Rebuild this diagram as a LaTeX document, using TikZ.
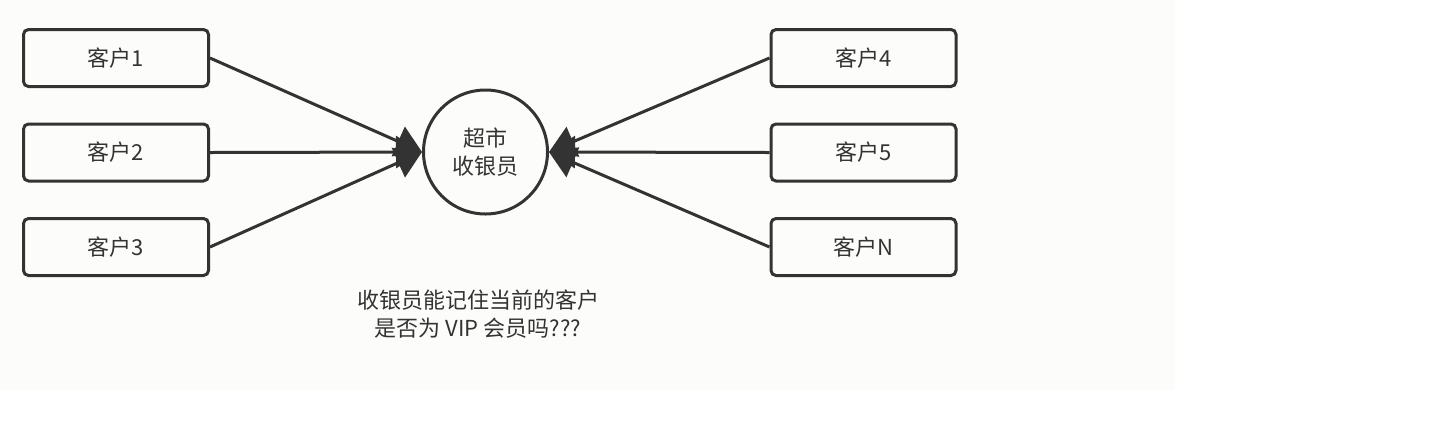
\documentclass[tikz,border=0pt]{standalone}
\usepackage{fontspec}
\setmainfont{Noto Sans CJK SC}
\usetikzlibrary{arrows.meta}
\definecolor{ink}{RGB}{51,51,51}
\definecolor{paper}{RGB}{252,253,251}

\tikzset{
  customer/.style={draw=ink,line width=1.5pt,rounded corners=2.5pt,
    minimum width=92.5pt,minimum height=28.5pt,inner sep=0pt,text=ink},
  cashier/.style={draw=ink,line width=1.5pt,circle,minimum size=62pt,
    inner sep=0pt,align=center,text=ink},
  feed/.style={draw=ink,line width=1.5pt,-{Triangle[length=13pt,width=16pt]}},
  question/.style={align=center,text=ink}
}

\begin{document}
\begin{tikzpicture}[x=0.5pt,y=-0.5pt]
\fontsize{11pt}{14pt}\selectfont

\useasboundingbox (0,0) rectangle (1439,430);
\fill[paper] (0,0) rectangle (1175,390);

\node[cashier] (cashier) at (485.5,152) {超市\\收银员};

% customers on the left
\node[customer] (c1) at (116,58) {客户1};
\node[customer] (c2) at (116,152.5) {客户2};
\node[customer] (c3) at (116,247) {客户3};

% customers on the right
\node[customer] (c4) at (863.5,58) {客户4};
\node[customer] (c5) at (863.5,152.5) {客户5};
\node[customer] (cN) at (863.5,247) {客户N};

\foreach \c in {c1,c2,c3}{
	\draw[feed] (\c.east) -- (cashier.west);}
\foreach \c in {c4,c5,cN}{
	\draw[feed] (\c.west) -- (cashier.east);}

\node[question] (q) at (478,314) {收银员能记住当前的客户\\是否为 VIP 会员吗???};
\end{tikzpicture}
\end{document}
